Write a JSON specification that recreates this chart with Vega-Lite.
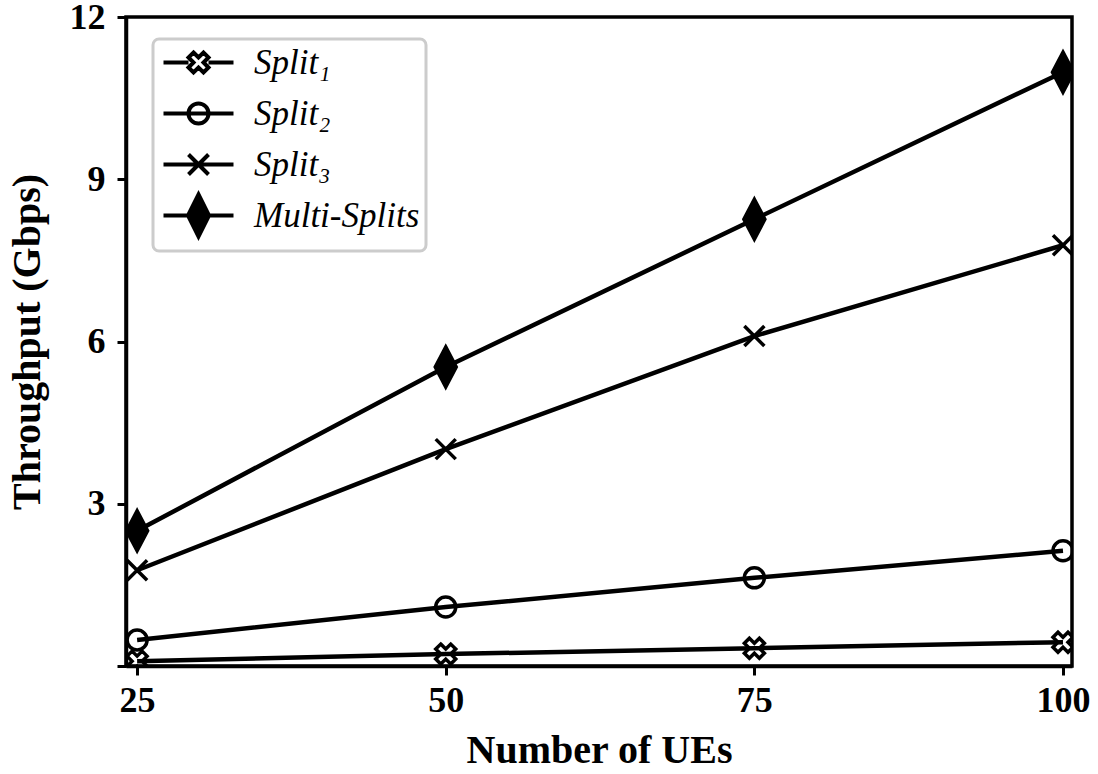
{
  "$schema": "https://vega.github.io/schema/vega-lite/v6.json",
  "autosize": "none",
  "width": 946,
  "height": 649,
  "padding": {"left": 126, "top": 17, "right": 26, "bottom": 108},
  "background": "white",
  "config": {
    "view": {"stroke": "black", "strokeWidth": 3.5},
    "legend": {"strokeWidth": 3, "cornerRadius": 6, "strokeColor": "#cccccc", "fillColor": "white", "labelFont": "Liberation Serif", "labelFontStyle": "italic", "labelFontSize": 35, "labelColor": "black"},
    "axis": {
      "labelFont": "Liberation Serif",
      "labelFontWeight": "bold",
      "labelFontSize": 36,
      "labelColor": "black",
      "titleFont": "Liberation Serif",
      "titleFontWeight": "bold",
      "titleFontSize": 40,
      "titleColor": "black",
      "domainColor": "black",
      "domainWidth": 3.5,
      "tickColor": "black",
      "tickWidth": 3,
      "tickSize": 9,
      "grid": false
    }
  },
  "data": {
    "values": [
      {"ues": 25, "tput": 0.09, "series": "Split₁"},
      {"ues": 50, "tput": 0.22, "series": "Split₁"},
      {"ues": 75, "tput": 0.33, "series": "Split₁"},
      {"ues": 100, "tput": 0.44, "series": "Split₁"},
      {"ues": 25, "tput": 0.48, "series": "Split₂"},
      {"ues": 50, "tput": 1.09, "series": "Split₂"},
      {"ues": 75, "tput": 1.63, "series": "Split₂"},
      {"ues": 100, "tput": 2.13, "series": "Split₂"},
      {"ues": 25, "tput": 1.77, "series": "Split₃"},
      {"ues": 50, "tput": 4.01, "series": "Split₃"},
      {"ues": 75, "tput": 6.1, "series": "Split₃"},
      {"ues": 100, "tput": 7.78, "series": "Split₃"},
      {"ues": 25, "tput": 2.5, "series": "Multi-Splits"},
      {"ues": 50, "tput": 5.53, "series": "Multi-Splits"},
      {"ues": 75, "tput": 8.26, "series": "Multi-Splits"},
      {"ues": 100, "tput": 10.98, "series": "Multi-Splits"}
    ]
  },
  "encoding": {
    "x": {
      "field": "ues", "type": "quantitative",
      "scale": {"domain": [24.1, 100.73], "nice": false, "zero": false},
      "axis": {"values": [25, 50, 75, 100], "title": "Number of UEs", "labelPadding": 8, "titlePadding": 12}
    },
    "y": {
      "field": "tput", "type": "quantitative",
      "scale": {"domain": [0, 12], "nice": false},
      "axis": {"values": [0, 3, 6, 9, 12], "labelExpr": "datum.value == 0 ? '' : datum.label", "title": "Throughput (Gbps)", "labelPadding": 12, "titlePadding": 22}
    }
  },
  "layer": [
    {
      "mark": {"type": "line", "color": "black", "strokeWidth": 4.5, "clip": true},
      "encoding": {"detail": {"field": "series"}}
    },
    {
      "mark": {"type": "point", "filled": true, "stroke": "black", "strokeWidth": 3.5, "opacity": 1, "size": 400, "clip": true},
      "encoding": {
        "shape": {
          "field": "series", "type": "nominal",
          "scale": {
            "domain": ["Split₁", "Split₂", "Split₃", "Multi-Splits"],
            "range": [
              "M-0.5,-1L0,-0.5L0.5,-1L1,-0.5L0.5,0L1,0.5L0.5,1L0,0.5L-0.5,1L-1,0.5L-0.5,0L-1,-0.5Z",
              "M-1,0A1,1,0,1,0,1,0A1,1,0,1,0,-1,0Z",
              "M-1,-1L1,1M-1,1L1,-1",
              "M0,-2L1.05,0L0,2L-1.05,0Z"
            ]
          },
          "legend": null
        },
        "fill": {
          "field": "series", "type": "nominal",
          "scale": {"domain": ["Split₁", "Split₂", "Split₃", "Multi-Splits"], "range": ["transparent", "transparent", "transparent", "black"]},
          "legend": null
        }
      }
    },
    {
      "transform": [{"filter": "datum.ues < 0"}],
      "mark": {"type": "point", "filled": false, "color": "black", "strokeWidth": 4, "opacity": 1},
      "encoding": {
        "shape": {
          "field": "series", "type": "nominal",
          "scale": {
            "domain": ["Split₁", "Split₂", "Split₃", "Multi-Splits"],
            "range": [
              "M0,-2.1M0,2.1M-3.5,0L-1,0M1,0L3.5,0M-0.5,-1L0,-0.5L0.5,-1L1,-0.5L0.5,0L1,0.5L0.5,1L0,0.5L-0.5,1L-1,0.5L-0.5,0L-1,-0.5Z",
              "M0,-2.1M0,2.1M-3.5,0L3.5,0M-1,0A1,1,0,1,0,1,0A1,1,0,1,0,-1,0Z",
              "M0,-2.1M0,2.1M-3.5,0L3.5,0M-1,-1L1,1M-1,1L1,-1",
              "M-3.5,0L3.5,0M0,-2.1L1.05,0L0,2.1L-1.05,0ZM0,-2.1L0,2.1M0.3,-1.5L0.3,1.5M-0.3,-1.5L-0.3,1.5M0.6,-0.9L0.6,0.9M-0.6,-0.9L-0.6,0.9M0.82,-0.45L0.82,0.45M-0.82,-0.45L-0.82,0.45"
            ]
          },
          "legend": {
            "title": null,
            "orient": "none",
            "legendX": 27,
            "legendY": 22,
            "symbolSize": 400,
            "symbolStrokeWidth": 4,
            "symbolStrokeColor": "black",
            "symbolFillColor": "transparent",
            "symbolOffset": 22,
            "labelOffset": 38,
            "labelFont": "Liberation Serif",
            "labelFontStyle": "italic",
            "labelFontSize": 35,
            "labelColor": "black",
            "labelLimit": 400,
            "rowPadding": -8,
            "padding": 6
          }
        }
      }
    }
  ],
  "resolve": {"scale": {"shape": "independent", "fill": "independent"}}
}
